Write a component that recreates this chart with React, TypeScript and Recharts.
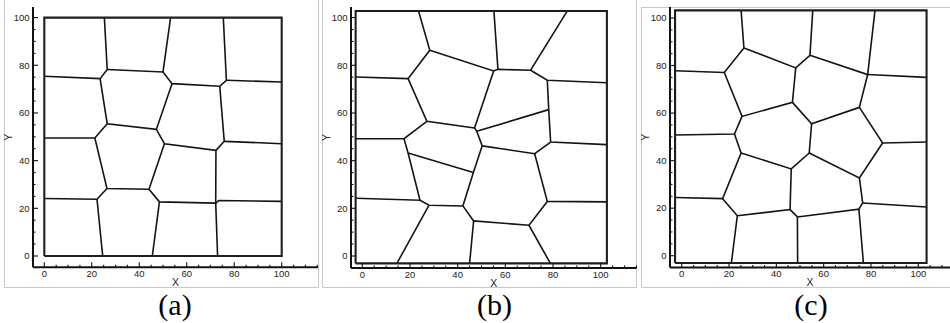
import React from 'react';
import { ScatterChart, Scatter, XAxis, YAxis, Label } from 'recharts';

type Pt = [number, number];

// (a) regular 4x4 cell mesh on [0,100]
const boxA: Pt[] = [[0, 0], [100, 0], [100, 100], [0, 100], [0, 0]];
const edgesA: Pt[][] = [
  [[25.3, 100], [26.5, 78.2], [23.5, 74.4], [0, 75.4]],
  [[26.5, 78.2], [50.0, 77.2], [53.2, 100]],
  [[50.0, 77.2], [53.8, 72.3], [73.9, 71.2], [76.7, 73.7], [75.4, 100]],
  [[76.7, 73.7], [100, 73.0]],
  [[23.5, 74.4], [26.5, 55.5], [47.2, 53.1], [53.8, 72.3]],
  [[47.2, 53.1], [50.6, 47.1], [72.3, 44.3], [75.8, 48.1], [73.9, 71.2]],
  [[75.8, 48.1], [100, 47.1]],
  [[26.5, 55.5], [21.3, 49.5], [0, 49.5]],
  [[21.3, 49.5], [26.4, 28.3], [44.1, 28.0], [50.6, 47.1]],
  [[44.1, 28.0], [48.5, 22.7], [72.2, 22.2], [72.3, 44.3]],
  [[72.2, 22.2], [73.5, 23.3], [100, 22.9]],
  [[72.2, 22.2], [73.0, 0]],
  [[48.5, 22.7], [45.5, 0]],
  [[26.4, 28.3], [22.2, 23.8], [0, 24.1]],
  [[22.2, 23.8], [24.6, 0]],
];

// (b) perturbed mesh
const boxB: Pt[] = [[-2.8, -3.1], [102.6, -3.1], [102.6, 102.8], [-2.8, 102.8], [-2.8, -3.1]];
const edgesB: Pt[][] = [
  [[23.6, 102.8], [28.3, 86.3], [19.2, 74.4], [-2.8, 75.1]],
  [[28.3, 86.3], [55.1, 77.6], [56.9, 78.3], [55.2, 102.8]],
  [[56.9, 78.3], [70.6, 77.9], [86.0, 102.8]],
  [[70.6, 77.9], [77.6, 73.7], [102.6, 72.7]],
  [[77.6, 73.7], [78.2, 61.4], [79.0, 47.8], [102.6, 46.7]],
  [[78.2, 61.4], [48.0, 52.3]],
  [[55.1, 77.6], [47.1, 53.7], [48.0, 52.3], [50.3, 46.2]],
  [[19.2, 74.4], [27.1, 56.5], [47.1, 53.7]],
  [[27.1, 56.5], [17.5, 49.2], [-2.8, 49.2]],
  [[17.5, 49.2], [19.2, 43.2], [24.2, 23.4], [-2.8, 24.2]],
  [[19.2, 43.2], [46.6, 35.0]],
  [[50.3, 46.2], [72.3, 42.9], [79.0, 47.8]],
  [[72.3, 42.9], [77.6, 22.9], [102.6, 22.7]],
  [[77.6, 22.9], [69.9, 12.9], [78.9, -3.1]],
  [[69.9, 12.9], [46.7, 14.7], [45.0, -3.1]],
  [[46.7, 14.7], [42.2, 21.0], [46.6, 35.0], [50.3, 46.2]],
  [[42.2, 21.0], [28.0, 21.3], [24.2, 23.4]],
  [[28.0, 21.3], [14.5, -3.1]],
];

// (c) relaxed mesh
const boxC: Pt[] = [[-2.8, -3.1], [103.5, -3.1], [103.5, 103.2], [-2.8, 103.2], [-2.8, -3.1]];
const edgesC: Pt[][] = [
  [[25.1, 103.2], [26.3, 87.4], [18.0, 77.1], [-2.8, 77.8]],
  [[26.3, 87.4], [48.2, 79.0], [54.2, 84.3], [55.4, 103.2]],
  [[54.2, 84.3], [78.6, 76.2], [81.7, 103.2]],
  [[78.6, 76.2], [103.5, 75.0]],
  [[78.6, 76.2], [75.1, 62.4], [84.9, 47.4], [103.5, 47.8]],
  [[48.2, 79.0], [46.8, 64.5], [25.5, 58.6], [18.0, 77.1]],
  [[46.8, 64.5], [54.9, 55.5], [75.1, 62.4]],
  [[84.9, 47.4], [75.1, 32.7], [53.9, 43.2], [54.9, 55.5]],
  [[53.9, 43.2], [46.3, 36.5], [25.1, 43.2]],
  [[25.5, 58.6], [22.3, 51.2], [-2.8, 50.8]],
  [[22.3, 51.2], [25.1, 43.2], [17.3, 24.0], [-2.8, 24.5]],
  [[17.3, 24.0], [23.5, 16.8], [21.0, -3.1]],
  [[23.5, 16.8], [45.8, 19.4], [46.3, 36.5]],
  [[45.8, 19.4], [48.9, 16.3], [49.0, -3.1]],
  [[48.9, 16.3], [74.9, 19.6], [76.8, -3.1]],
  [[74.9, 19.6], [76.5, 22.2], [75.1, 32.7]],
  [[76.5, 22.2], [103.5, 20.5]],
];

const xTicks = [0, 5, 10, 15, 20, 25, 30, 35, 40, 45, 50, 55, 60, 65, 70, 75, 80, 85, 90, 95, 100, 105, 110, 115];
const yTicks = [0, 5, 10, 15, 20, 25, 30, 35, 40, 45, 50, 55, 60, 65, 70, 75, 80, 85, 90, 95, 100];
const captions = ['(a)', '(b)', '(c)'];

const SANS = 'Liberation Sans, Arial, sans-serif';
const YW = 40;
const XH = 30;
const MT = 4;
const MR = 2;

interface Layout {
  x0: number; xs: number; y0: number; ys: number;
  L: number; R: number; T: number; B: number;
}

const layouts: Layout[] = [
  { x0: 44.3, xs: 2.374, y0: 255.7, ys: 2.384, L: 33, R: 318, T: 6.7, B: 267 },
  { x0: 362.3, xs: 2.384, y0: 255.7, ys: 2.384, L: 351, R: 636.5, T: 6.7, B: 267.7 },
  { x0: 681.7, xs: 2.366, y0: 256, ys: 2.377, L: 670, R: 950, T: 7.3, B: 267.7 },
];

function XTick(props: any) {
  const { x, y, payload } = props;
  const v = payload.value;
  const major = v % 20 === 0;
  return (
    <g>
      <line x1={x} x2={x} y1={y} y2={y - (major ? 5 : 2.5)} stroke="#111" strokeWidth={1.1} />
      {major && v <= 100 && (
        <text x={x} y={y + 9.8} textAnchor="middle" fontSize={9.5} fill="#222" fontFamily={SANS}>{v}</text>
      )}
    </g>
  );
}

function YTick(props: any) {
  const { x, y, payload } = props;
  const v = payload.value;
  const major = v % 20 === 0;
  return (
    <g>
      <line x1={x} x2={x + (major ? 5 : 2.5)} y1={y} y2={y} stroke="#111" strokeWidth={1.1} />
      {major && (
        <text x={x - 3.5} y={y + 3.3} textAnchor="end" fontSize={9.5} fill="#222" fontFamily={SANS}>{v}</text>
      )}
    </g>
  );
}

const toPoints = (line: Pt[]) => line.map(([x, y]) => ({ x, y }));

function MeshPanel({ layout, box, edges }: { layout: Layout; box: Pt[]; edges: Pt[][] }) {
  const { x0, xs, y0, ys, L, R, T, B } = layout;
  const xDomain = [(L - x0) / xs, (R - x0) / xs];
  const yDomain = [(y0 - B) / ys, (y0 - T) / ys];
  const xt = xTicks.filter((t) => t >= xDomain[0] && t <= xDomain[1]);
  const yt = yTicks.filter((t) => t >= yDomain[0] && t <= yDomain[1]);
  return (
    <div style={{ position: 'absolute', left: L - YW, top: T - MT }}>
      <ScatterChart
        width={R - L + YW + MR}
        height={B - T + MT + XH}
        margin={{ top: MT, right: MR, bottom: 0, left: 0 }}
      >
        <XAxis
          type="number"
          dataKey="x"
          domain={xDomain}
          allowDataOverflow
          ticks={xt}
          interval={0}
          tickSize={0}
          tickMargin={0}
          tickLine={false}
          tick={XTick}
          height={XH}
          axisLine={{ stroke: '#111', strokeWidth: 2 }}
        >
          <Label value="X" position="insideBottom" offset={11} style={{ fontSize: 10.5, fill: '#222', fontFamily: SANS }} />
        </XAxis>
        <YAxis
          type="number"
          dataKey="y"
          domain={yDomain}
          allowDataOverflow
          ticks={yt}
          interval={0}
          tickSize={0}
          tickMargin={0}
          tickLine={false}
          tick={YTick}
          width={YW}
          axisLine={{ stroke: '#111', strokeWidth: 2 }}
        >
          <Label
            value="Y"
            angle={-90}
            position="insideLeft"
            offset={15}
            style={{ fontSize: 10.5, fill: '#222', fontFamily: SANS, textAnchor: 'middle' }}
          />
        </YAxis>
        {edges.map((line, i) => (
          <Scatter
            key={i}
            data={toPoints(line)}
            line={{ stroke: '#141414', strokeWidth: 1.6 }}
            shape={() => <g />}
            isAnimationActive={false}
          />
        ))}
        <Scatter
          data={toPoints(box)}
          line={{ stroke: '#1e1e1e', strokeWidth: 2.1 }}
          shape={() => <g />}
          isAnimationActive={false}
        />
      </ScatterChart>
    </div>
  );
}

export default function App() {
  const frame = '#c8c8c8';
  return (
    <div style={{ position: 'absolute', left: 0, top: 0, width: 950, height: 323, overflow: 'hidden', background: '#fff' }}>
      <svg width={950} height={323} style={{ position: 'absolute', left: 0, top: 0 }}>
        <polyline points="4.5,0 4.5,287.5 318.5,287.5 318.5,0" fill="none" stroke={frame} strokeWidth={1} />
        <polyline points="322.5,0 322.5,287.5 636.5,287.5 636.5,0" fill="none" stroke={frame} strokeWidth={1} />
        <polyline points="950,7.5 641.5,7.5 641.5,287.5 950,287.5" fill="none" stroke={frame} strokeWidth={1} />
        {captions.map((c, i) => (
          <text
            key={c}
            x={[175, 494.5, 811][i]}
            y={315}
            textAnchor="middle"
            fontSize={30}
            fontFamily="Liberation Serif, Times New Roman, serif"
            fill="#000"
          >
            {c}
          </text>
        ))}
      </svg>
      <MeshPanel layout={layouts[0]} box={boxA} edges={edgesA} />
      <MeshPanel layout={layouts[1]} box={boxB} edges={edgesB} />
      <MeshPanel layout={layouts[2]} box={boxC} edges={edgesC} />
    </div>
  );
}
